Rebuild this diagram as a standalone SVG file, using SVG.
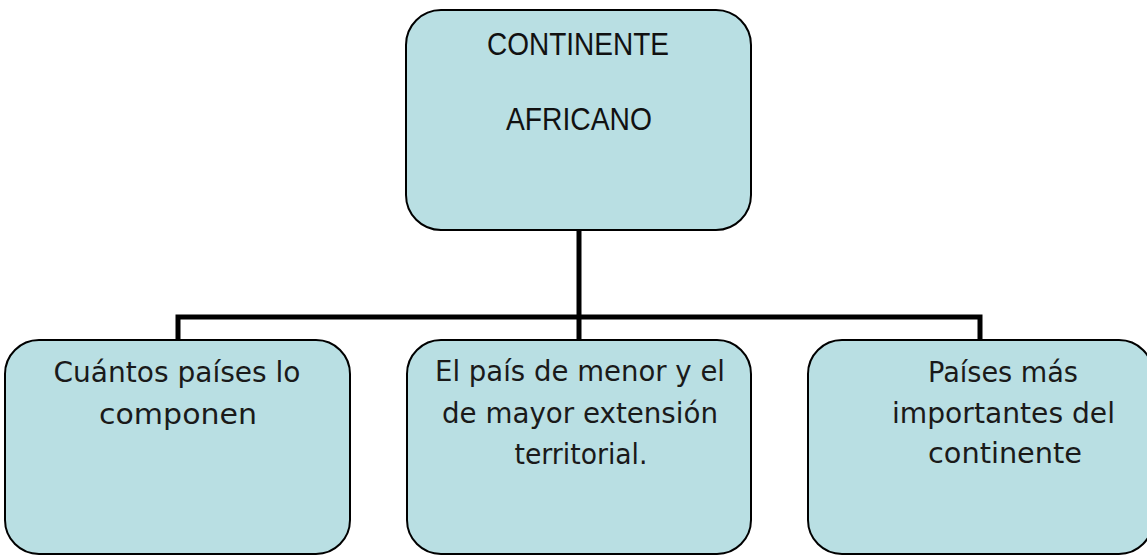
<svg xmlns="http://www.w3.org/2000/svg" width="1147" height="556" viewBox="0 0 1147 556">
<style>
.box{fill:#B9DFE3;stroke:#000;stroke-width:2}
.conn{fill:none;stroke:#000;stroke-width:5;stroke-linecap:butt;stroke-linejoin:miter}
.t1{font-family:"Liberation Sans",Arial,sans-serif;font-size:31px;fill:#111;text-anchor:middle}
.t2{font-family:"DejaVu Sans",sans-serif;font-size:28px;fill:#1a1a1a;text-anchor:middle}
</style>
<rect width="1147" height="556" fill="#fff"/>
<g id="connectors">
<path class="conn" d="M579,230 V340"/>
<path class="conn" d="M178,340 V317 H980 V340"/>
</g>
<g id="node-top">
<rect class="box" x="406" y="10" width="345" height="220" rx="35" ry="35"/>
<text class="t1" x="578" y="55" textLength="182" lengthAdjust="spacingAndGlyphs">CONTINENTE</text>
<text class="t1" x="579" y="130" textLength="146" lengthAdjust="spacingAndGlyphs">AFRICANO</text>
</g>
<g id="node-left">
<rect class="box" x="5" y="340" width="345" height="214" rx="34" ry="34"/>
<text class="t2" x="177" y="382" textLength="247" lengthAdjust="spacingAndGlyphs">Cuántos países lo</text>
<text class="t2" x="178" y="424" textLength="158" lengthAdjust="spacingAndGlyphs">componen</text>
</g>
<g id="node-middle">
<rect class="box" x="407" y="340" width="344" height="214" rx="34" ry="34"/>
<text class="t2" x="580" y="381" textLength="290" lengthAdjust="spacingAndGlyphs">El país de menor y el</text>
<text class="t2" x="580" y="423" textLength="276" lengthAdjust="spacingAndGlyphs">de mayor extensión</text>
<text class="t2" x="581" y="464" textLength="133" lengthAdjust="spacingAndGlyphs">territorial.</text>
</g>
<g id="node-right">
<rect class="box" x="808" y="340" width="345" height="214" rx="34" ry="34"/>
<text class="t2" x="1003" y="382" textLength="150" lengthAdjust="spacingAndGlyphs">Países más</text>
<text class="t2" x="1003.5" y="423" textLength="223" lengthAdjust="spacingAndGlyphs">importantes del</text>
<text class="t2" x="1005" y="463" textLength="154" lengthAdjust="spacingAndGlyphs">continente</text>
</g>
</svg>
